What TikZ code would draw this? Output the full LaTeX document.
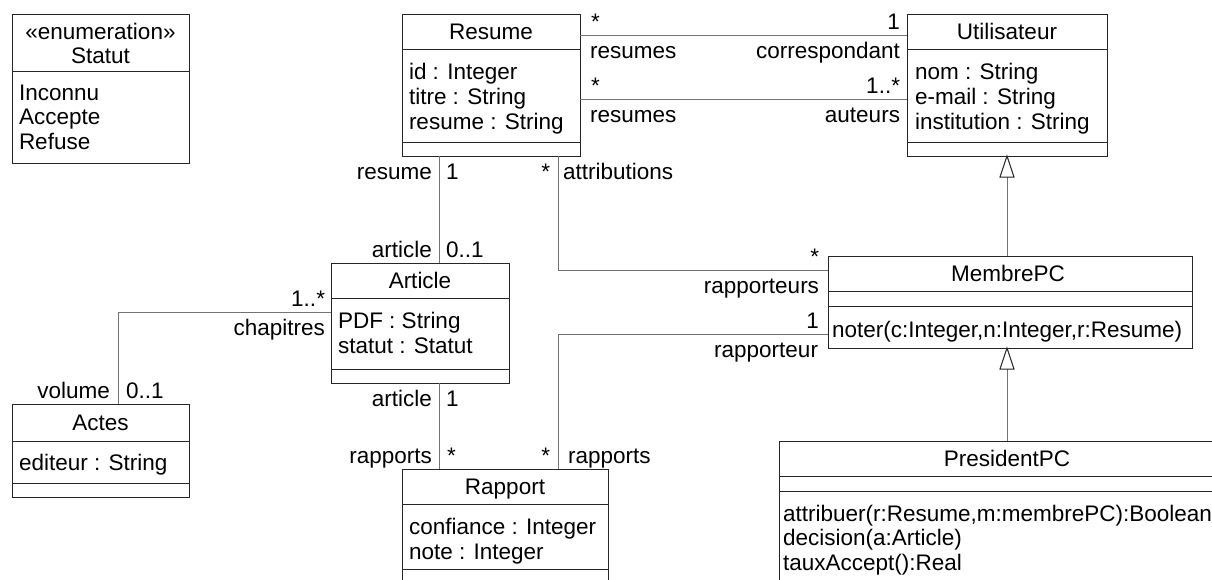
\documentclass[tikz,border=0pt]{standalone}
\usepackage{fontspec}
\setmainfont{Liberation Sans}
\usetikzlibrary{calc}
\begin{document}
\begin{tikzpicture}[x=1pt,y=-1pt,
  cls/.style={draw=black!85, line width=1pt, inner sep=0pt, outer sep=0pt, anchor=north west, fill=white},
  txt/.style={inner sep=0pt, outer sep=0pt, font=\fontsize{22.5}{26}\selectfont, text=black},
  lw/.style={txt, anchor=base west},
  le/.style={txt, anchor=base east},
  lc/.style={txt, anchor=base},
  div/.style={draw=black!85, line width=1pt},
  assoc/.style={draw=black!55, line width=1pt},
  gen/.style={draw=black!55, line width=1pt},
  tri/.style={draw=black!85, line width=1pt, fill=white, line join=miter}]
\useasboundingbox (0,0) rectangle (1212,579);
\fill[white] (0,0) rectangle (1212,579);

% ---------- classes ----------
% Statut
\node[cls, minimum width=177pt, minimum height=149pt] (statut) at (12,14) {};
\draw[div] (12,71) -- (189,71);
\node[lc] (st1) at (100.5,39) {«enumeration»};
\node[lc] (st2) at (100.5,63.5) {Statut};
\node[lw] (st3) at (19,100) {Inconnu};
\node[lw] (st4) at (19,124.5) {Accepte};
\node[lw] (st5) at (19,149) {Refuse};

% Resume
\node[cls, minimum width=178pt, minimum height=142pt] (resume) at (402,14) {};
\draw[div] (402,49) -- (580,49);
\draw[div] (402,142) -- (580,142);
\node[lc] (re1) at (491,39) {Resume};
\node[lw] (re2) at (409,79) {id : Integer};
\node[lw] (re3) at (409,104) {titre : String};
\node[lw] (re4) at (409,129) {resume : String};

% Utilisateur
\node[cls, minimum width=200pt, minimum height=142pt] (util) at (907,14) {};
\draw[div] (907,49) -- (1107,49);
\draw[div] (907,142) -- (1107,142);
\node[lc] (ut1) at (1007,39) {Utilisateur};
\node[lw] (ut2) at (915,79) {nom : String};
\node[lw] (ut3) at (915,104) {e-mail : String};
\node[lw] (ut4) at (915,129) {institution : String};

% Article
\node[cls, minimum width=178pt, minimum height=120pt] (art) at (331,263) {};
\draw[div] (331,298) -- (509,298);
\draw[div] (331,369) -- (509,369);
\node[lc] (ar1) at (420,288) {Article};
\node[lw] (ar2) at (338,328) {PDF : String};
\node[lw] (ar3) at (338,353) {statut : Statut};

% Actes
\node[cls, minimum width=177pt, minimum height=93pt] (actes) at (12,404) {};
\draw[div] (12,441) -- (189,441);
\draw[div] (12,483) -- (189,483);
\node[lc] (ac1) at (100.5,430) {Actes};
\node[lw] (ac2) at (19,470) {editeur : String};

% Rapport
\node[cls, minimum width=206pt, minimum height=114pt] (rapport) at (402,469) {};
\draw[div] (402,504) -- (608,504);
\draw[div] (402,569) -- (608,569);
\node[lc] (ra1) at (505,494) {Rapport};
\node[lw] (ra2) at (409,534) {confiance : Integer};
\node[lw] (ra3) at (409,559) {note : Integer};

% MembrePC
\node[cls, minimum width=364pt, minimum height=92pt] (membre) at (828,256) {};
\draw[div] (828,291) -- (1192,291);
\draw[div] (828,306) -- (1192,306);
\node[lc] (me1) at (1008,281) {MembrePC};
\node[lw] (me2) at (832,337) {noter(c:Integer,n:Integer,r:Resume)};

% PresidentPC
\node[cls, minimum width=456pt, minimum height=150pt] (pres) at (779,441) {};
\draw[div] (779,476) -- (1235,476);
\draw[div] (779,491) -- (1235,491);
\node[lc] (pr1) at (1007,466) {PresidentPC};
\node[lw] (pr2) at (783,521) {attribuer(r:Resume,m:membrePC):Boolean};
\node[lw] (pr3) at (783,545.5) {decision(a:Article)};
\node[lw] (pr4) at (783,570) {tauxAccept():Real};

% ---------- generalizations ----------
\draw[gen] ($(util.south)+(0,21)$) -- (util.south |- membre.north);
\draw[tri] (util.south) -- ++(-7,21) -- ++(14,0) -- cycle;
\coordinate (mtip) at (membre.south -| util.south);
\draw[gen] ($(mtip)+(0,21)$) -- (util.south |- pres.north);
\draw[tri] (mtip) -- ++(-7,21) -- ++(14,0) -- cycle;

% ---------- associations ----------
% Resume - Utilisateur (correspondant)
\draw[assoc] ($(resume.north east)+(0,21)$) -- ($(util.north west)+(0,21)$);
\node[lw] (l1a) at (591,29) {*};
\node[le] (l1b) at (900,29) {1};
\node[lw] (l1c) at (590,58) {resumes};
\node[le] (l1d) at (900,58) {correspondant};

% Resume - Utilisateur (auteurs)
\draw[assoc] ($(resume.north east)+(0,85)$) -- ($(util.north west)+(0,85)$);
\node[lw] (l2a) at (591,93) {*};
\node[le] (l2b) at (900,93) {1..*};
\node[lw] (l2c) at (590,122) {resumes};
\node[le] (l2d) at (900,122) {auteurs};

% Resume - Article
\draw[assoc] ($(resume.south west)+(37,0)$) -- ($(art.north west)+(108,0)$);
\node[le] (l3a) at (432,179) {resume};
\node[lw] (l3b) at (446,179) {1};
\node[le] (l3c) at (432,257) {article};
\node[lw] (l3d) at (446,257) {0..1};

% Resume - MembrePC (attributions / rapporteurs)
\draw[assoc] ($(resume.south west)+(156,0)$) |- ($(membre.north west)+(0,14)$);
\node[le] (l4a) at (550,179) {*};
\node[lw] (l4b) at (563,179) {attributions};
\node[le] (l4c) at (819,264) {*};
\node[le] (l4d) at (819,293) {rapporteurs};

% MembrePC - Rapport (rapporteur / rapports)
\draw[assoc] ($(membre.north west)+(0,78)$) -| ($(rapport.north west)+(156,0)$);
\node[le] (l5a) at (819,328) {1};
\node[le] (l5b) at (818,357) {rapporteur};
\node[le] (l5c) at (550,463) {*};
\node[lw] (l5d) at (568,463) {rapports};

% Article - Rapport
\draw[assoc] ($(art.south west)+(108,0)$) -- ($(rapport.north west)+(37,0)$);
\node[le] (l6a) at (432,406) {article};
\node[lw] (l6b) at (446,406) {1};
\node[le] (l6c) at (432,463) {rapports};
\node[lw] (l6d) at (447,463) {*};

% Actes - Article
\draw[assoc] ($(actes.north west)+(106,0)$) |- ($(art.north west)+(0,49)$);
\node[le] (l7a) at (325,306) {1..*};
\node[le] (l7b) at (325,335) {chapitres};
\node[le] (l7c) at (110,398) {volume};
\node[lw] (l7d) at (126,398) {0..1};
\end{tikzpicture}
\end{document}
